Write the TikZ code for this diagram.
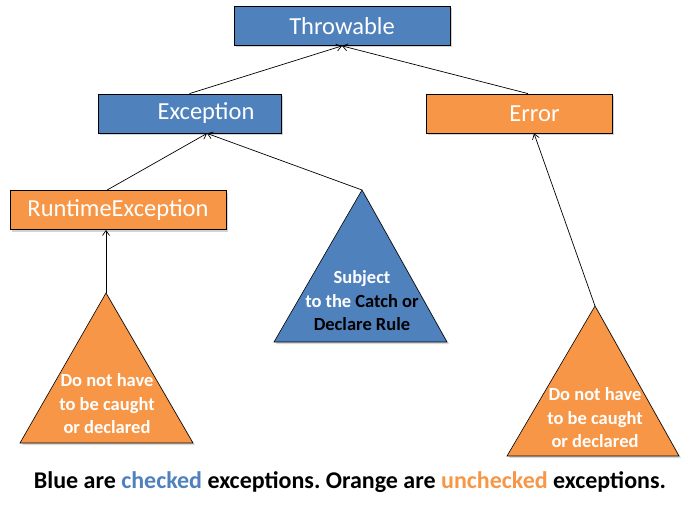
\documentclass[tikz,border=0pt]{standalone}
\usepackage{fontspec}
\setmainfont{Carlito}
\usetikzlibrary{arrows.meta,shadows,calc}
\definecolor{cblue}{HTML}{4F81BD}
\definecolor{corange}{HTML}{F79646}
\frenchspacing
\begin{document}
\begin{tikzpicture}[x=1pt,y=-1pt,
  box/.style={draw=black,line width=0.8pt,minimum height=39pt,text=white,
    font=\fontsize{24.5}{28}\selectfont,inner sep=0pt,
    drop shadow={shadow xshift=2pt,shadow yshift=-2pt,opacity=0.35,fill=gray}},
  bluebox/.style={box,fill=cblue},
  orangebox/.style={box,fill=corange},
  tri/.style={draw=black,line width=0.6pt,
    drop shadow={shadow xshift=2pt,shadow yshift=-2pt,opacity=0.3,fill=gray}},
  tritext/.style={font=\bfseries\fontsize{18.5}{23.5}\selectfont,align=center,inner sep=0pt},
  conn/.style={-{Straight Barb[length=5pt,width=7pt]},line width=0.7pt}]
\useasboundingbox (0,0) rectangle (690,511);
\node[bluebox,minimum width=216pt] (thr) at (342,26) {Throwable};
\node[bluebox,minimum width=183pt] (exc) at (189.5,113.5) {\hspace*{33pt}Exception};
\node[orangebox,minimum width=186pt] (err) at (519,113.5) {\hspace*{31pt}Error};
\node[orangebox,minimum width=216pt] (rte) at (118,210) {RuntimeException};
% triangles
\coordinate (t1) at (362,190);
\coordinate (t2) at (106,293);
\coordinate (t3) at (595,306);
\filldraw[tri,fill=cblue] (t1) -- (447,342) -- (274,342) -- cycle;
\filldraw[tri,fill=corange] (t2) -- (193,443) -- (20,443) -- cycle;
\filldraw[tri,fill=corange] (t3) -- (679,456) -- (507,456) -- cycle;
\node[tritext] (s1) at (362,301) {\textcolor{white}{Subject}\\\textcolor{white}{to the} Catch or\\Declare Rule};
\node[tritext,text=white] (s2) at (107,404) {Do not have\\to be caught\\or declared};
\node[tritext,text=white] (s3) at (595,418) {Do not have\\to be caught\\or declared};
% connectors
\coordinate (thrb) at (thr.south);
\coordinate (excb) at ($(exc.south)+(17.5,0)$);
\coordinate (errb) at ($(err.south)+(15,0)$);
\coordinate (rteb) at ($(rte.south)+(-12,0)$);
\draw[conn] (exc.north) -- (thrb);
\draw[conn] ($(err.north)+(9,0)$) -- (thrb);
\draw[conn] ($(rte.north)+(-11,0)$) -- (excb);
\draw[conn] (t1) -- (excb);
\draw[conn] (t3) -- (errb);
\draw[conn] (t2) -- (rteb);
\node[font=\bfseries\fontsize{24}{28}\selectfont] (cap) at (350,482)
  {Blue are \textcolor{cblue}{checked} exceptions. Orange are \textcolor{corange}{unchecked} exceptions.};
\end{tikzpicture}
\end{document}
